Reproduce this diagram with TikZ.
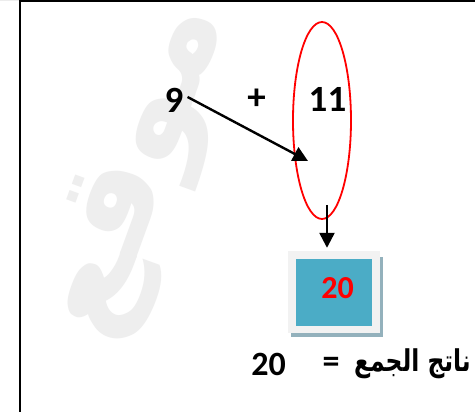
\documentclass[tikz,border=0pt]{standalone}
\usepackage{fontspec}
\usepackage{graphicx}
\setmainfont{Carlito}
\newfontfamily\arabicfont[Script=Arabic]{DejaVu Sans}
\TeXXeTstate=1
\usetikzlibrary{arrows.meta,shapes.geometric}
\definecolor{tealbox}{HTML}{4BACC6}
\definecolor{framegray}{HTML}{F2F2F2}
\definecolor{shadowblue}{HTML}{93B1BC}
\definecolor{wmark}{HTML}{EEEEEE}
\tikzset{
  num/.style={inner sep=0pt, font=\bfseries\fontsize{37}{40}\selectfont},
  big/.style={inner sep=0pt, font=\bfseries\fontsize{34}{38}\selectfont},
  arr/.style={line width=2.4pt, -{Triangle[length=15pt,width=15pt]}},
}
\begin{document}
\begin{tikzpicture}[x=1pt,y=-1pt]
\useasboundingbox (0,0) rectangle (475,412);
\fill[white] (0,0) rectangle (475,412);
% watermark
\node[rotate=70, text=wmark, inner sep=0pt, font=\arabicfont\bfseries\fontsize{135}{135}\selectfont] (wm) at (140,172) {\beginR موقع\endR};
% borders
\fill[gray!15] (0,0) rectangle (19,1.5);
\draw[line width=2pt] (20,0) -- (20,412);
\draw[line width=2.4pt] (19,1.2) -- (475,1.2);
% numbers
\node[num] (nine) at (174,100) {9};
\node[num] (plus) at (256.5,99) {+};
\node[num] (eleven) at (327.5,99.5) {11};
\node[draw=red, line width=1.8pt, ellipse, minimum width=58pt, minimum height=197pt, inner sep=0pt] (oval) at (322,120.5) {};
\coordinate (t1) at (308,161);
\draw[arr] ([shift={(4,-3)}]nine.east) -- (t1);
% result box
\fill[shadowblue] (291,257) rectangle (383,337);
\node[fill=framegray, minimum width=92pt, minimum height=82pt, inner sep=0pt] (frame) at (334,292) {};
\node[fill=tealbox, minimum width=76pt, minimum height=67pt, inner sep=0pt] (res) at (334,292.5) {};
\node[big, text=red, font=\bfseries\fontsize{32}{36}\selectfont] (sum) at (337.5,288) {20};
\coordinate (s2) at (327,205);
\draw[arr] (s2) -- ([yshift=3pt]frame.north -| s2);
% bottom line
\node[big] (total) at (268.5,364) {20};
\node[big] (eq) at (331,365) {=};
\node[inner sep=0pt, anchor=east] (label) at (471,364) {\scalebox{0.78}[1]{\arabicfont\bfseries\fontsize{30}{34}\selectfont\beginR ناتج الجمع\endR}};
\end{tikzpicture}
\end{document}
